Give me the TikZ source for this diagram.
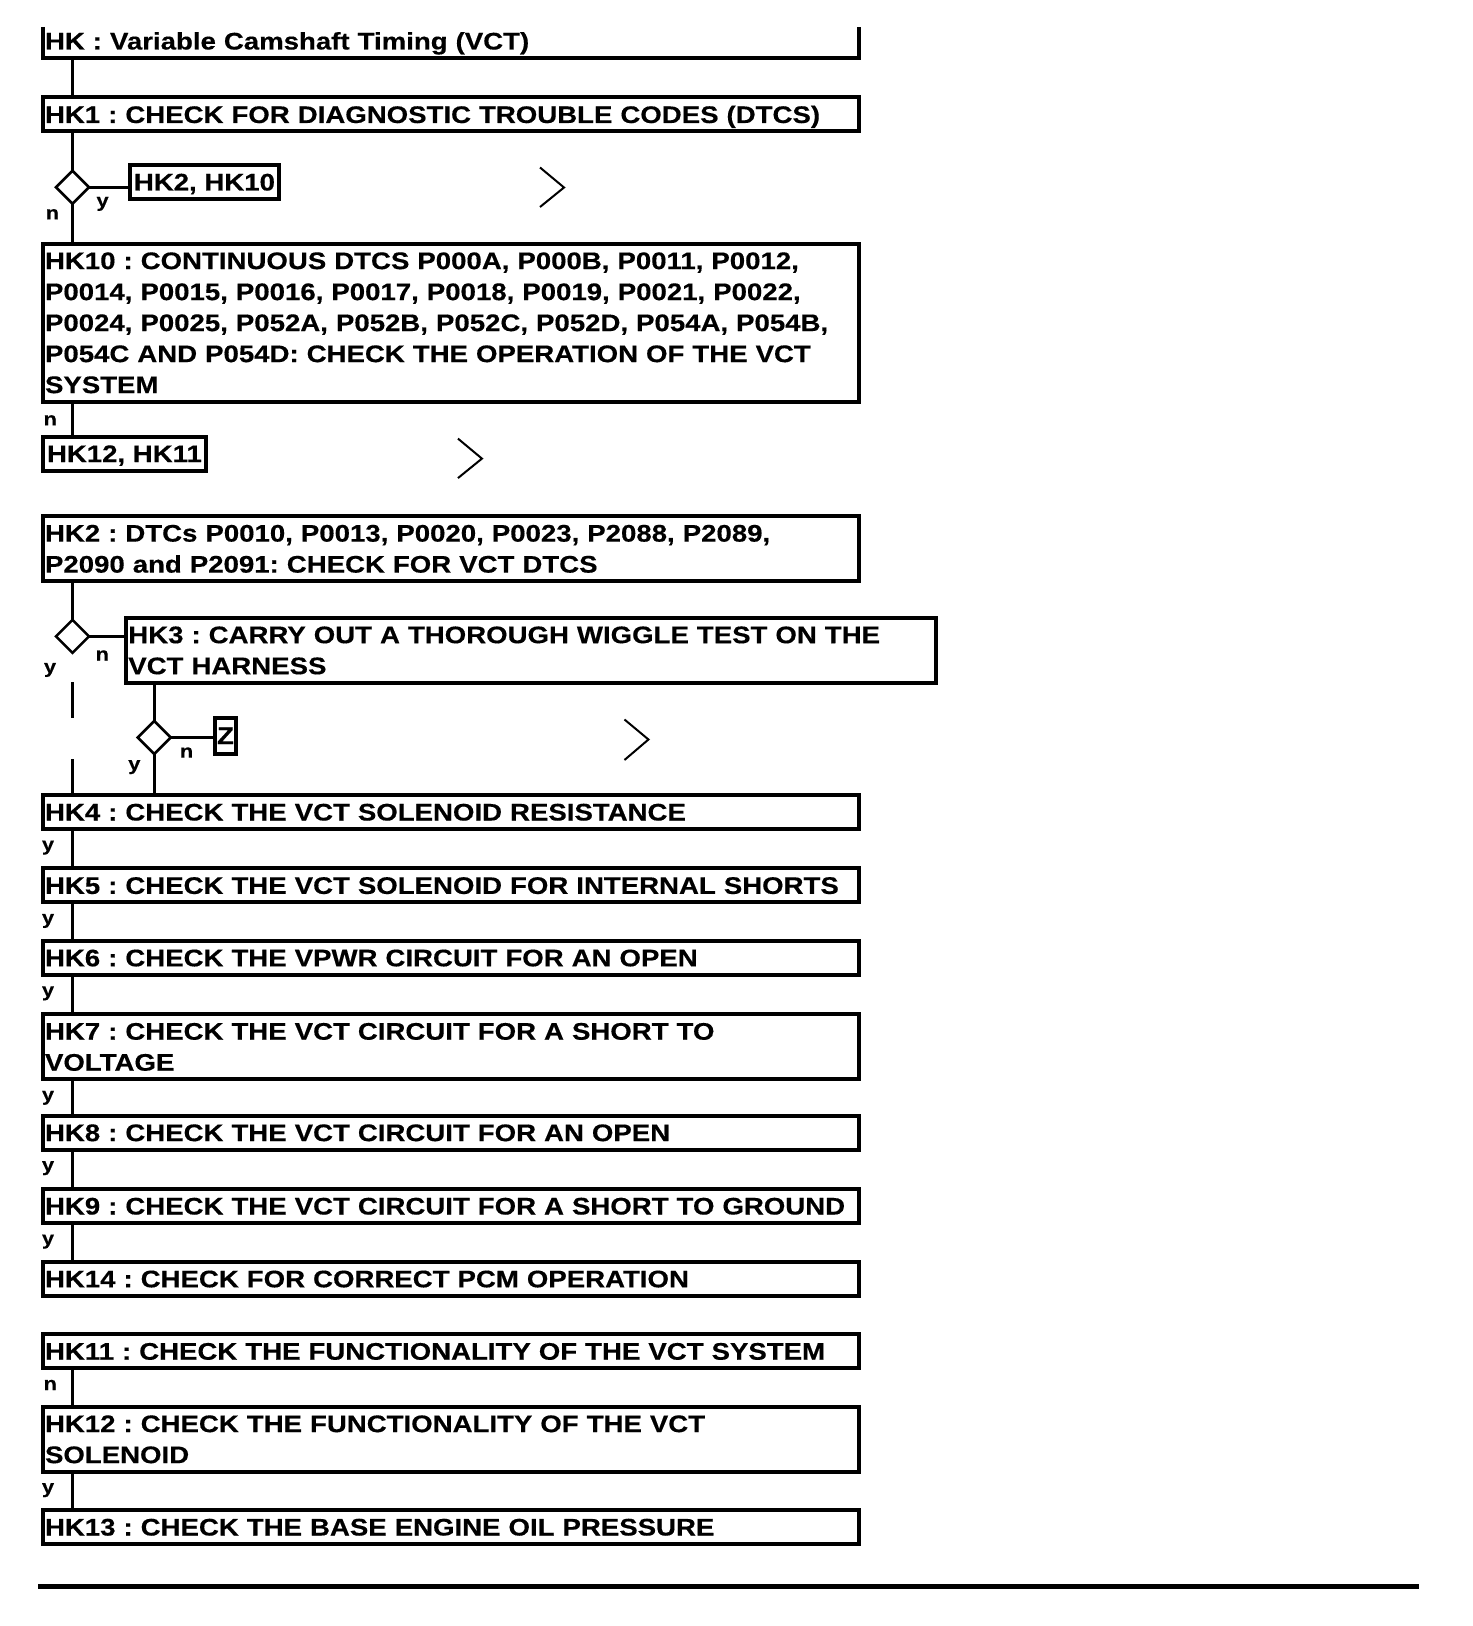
\documentclass[tikz,border=0pt]{standalone}
\usepackage{fontspec}
\setmainfont{Liberation Sans}[FakeStretch=1.15, BoldFeatures={FakeBold=0.4}]
\usetikzlibrary{shapes.geometric,positioning}

\newcommand{\boxstrut}{\rule{0pt}{11.5pt}}
\newcommand{\boxdepth}{\rule[-3pt]{0pt}{3pt}}

\begin{document}
\frenchspacing
\begin{tikzpicture}[
  box/.style={draw, rectangle, line width=2pt, outer sep=0pt,
              inner xsep=1pt, inner ysep=1.25pt, align=left, text width=406pt,
              font=\fontsize{12pt}{15.5pt}\selectfont\bfseries,
              execute at begin node=\boxstrut, execute at end node=\boxdepth},
  tag/.style={box, text width={}, inner xsep=2pt},
  diam/.style={draw, diamond, line width=1.3pt, outer sep=0pt, inner sep=0pt,
               minimum width=16.5pt, minimum height=16.5pt},
  lbl/.style={font=\fontsize{9.5pt}{11pt}\selectfont\bfseries, inner sep=0pt},
  conn/.style={line width=1.6pt},
  chev/.style={line width=1pt}]

\useasboundingbox (0,0) rectangle (736pt,-813pt);

% Header, open at the top
\node[box, draw=none, anchor=south west] (hk) at (21.5pt,-29pt)
  {HK : Variable Camshaft Timing (VCT)};
\draw[line width=2pt] ([yshift=-1.5pt]hk.north west) -- (hk.south west)
  -- (hk.south east) -- ([yshift=-1.5pt]hk.north east);

% First check and its decision
\node[box, below=19.75pt of hk.south west, anchor=north west] (hk1)
  {HK1 : CHECK FOR DIAGNOSTIC TROUBLE CODES (DTCS)};
\node[diam, below=19.65pt of hk1.south west, xshift=14.75pt] (d1) {};
\node[tag, right=20.45pt of d1, yshift=2.65pt] (lnk1) {HK2, HK10};
\node[box, below=19.9pt of d1.south, anchor=north west, xshift=-14.75pt] (hk10)
  {HK10 : CONTINUOUS DTCS P000A, P000B, P0011, P0012,\\
   P0014, P0015, P0016, P0017, P0018, P0019, P0021, P0022,\\
   P0024, P0025, P052A, P052B, P052C, P052D, P054A, P054B,\\
   P054C AND P054D: CHECK THE OPERATION OF THE VCT\\
   SYSTEM};
\node[tag, below=17.5pt of hk10.south west, anchor=north west] (lnk2) {HK12, HK11};

% DTC branch with wiggle test
\node[box, below=22.75pt of lnk2.south west, anchor=north west] (hk2)
  {HK2 : DTCs P0010, P0013, P0020, P0023, P2088, P2089,\\
   P2090 and P2091: CHECK FOR VCT DTCS};
\node[diam, below=19.4pt of hk2.south west, xshift=14.75pt] (d2) {};
\node[box, text width=403pt, right=18.65pt of d2.east, anchor=north west,
      yshift=9.35pt] (hk3)
  {HK3 : CARRY OUT A THOROUGH WIGGLE TEST ON THE\\
   VCT HARNESS};
\node[diam, below=19.15pt of hk3.south west, xshift=14pt] (d3) {};
\node[tag, right=22.15pt of d3, yshift=1pt, inner xsep=1pt, minimum height=18pt] (z) {Z};

% Circuit checks
\coordinate (c4) at (hk2.south west |- d3.south);
\node[box, below=20.5pt of c4, anchor=north west] (hk4)
  {HK4 : CHECK THE VCT SOLENOID RESISTANCE};
\node[box, below=19.7pt of hk4.south west, anchor=north west] (hk5)
  {HK5 : CHECK THE VCT SOLENOID FOR INTERNAL SHORTS};
\node[box, below=19.2pt of hk5.south west, anchor=north west] (hk6)
  {HK6 : CHECK THE VPWR CIRCUIT FOR AN OPEN};
\node[box, below=19.7pt of hk6.south west, anchor=north west] (hk7)
  {HK7 : CHECK THE VCT CIRCUIT FOR A SHORT TO\\
   VOLTAGE};
\node[box, below=18.2pt of hk7.south west, anchor=north west] (hk8)
  {HK8 : CHECK THE VCT CIRCUIT FOR AN OPEN};
\node[box, below=19.7pt of hk8.south west, anchor=north west] (hk9)
  {HK9 : CHECK THE VCT CIRCUIT FOR A SHORT TO GROUND};
\node[box, below=19.4pt of hk9.south west, anchor=north west] (hk14)
  {HK14 : CHECK FOR CORRECT PCM OPERATION};

% Functionality checks
\node[box, below=19.2pt of hk14.south west, anchor=north west] (hk11)
  {HK11 : CHECK THE FUNCTIONALITY OF THE VCT SYSTEM};
\node[box, below=19.2pt of hk11.south west, anchor=north west] (hk12)
  {HK12 : CHECK THE FUNCTIONALITY OF THE VCT\\
   SOLENOID};
\node[box, below=19.2pt of hk12.south west, anchor=north west] (hk13)
  {HK13 : CHECK THE BASE ENGINE OIL PRESSURE};

% Trunk and decisions
\draw[conn] (hk.south -| d1) -- (hk1.north -| d1);
\draw[conn] (hk1.south -| d1) -- (d1.north);
\draw[conn] (d1.east) node[lbl, below right=4pt and 2.95pt] {y} -- (d1.east -| lnk1.west);
\draw[conn] (d1.south) node[lbl, below left=1.85pt and 5.9pt] {n} -- (d1.south |- hk10.north);
\draw[conn] (hk10.south -| d1) node[lbl, below left=6pt and 7pt] {n} -- (lnk2.north -| d1);

\draw[conn] (hk2.south -| d2) -- (d2.north);
\draw[conn] (d2.east) node[lbl, below right=6.15pt and 2.5pt] {n} -- (d2.east -| hk3.west);
\draw[conn, dash pattern=on 0pt off 14.75pt on 18pt off 20.5pt on 60pt]
  (d2.south) node[lbl, below left=4.25pt and 7.4pt] {y} -- (d2.south |- hk4.north);
\draw[conn] (hk3.south -| d3) -- (d3.north);
\draw[conn] (d3.east) node[lbl, below right=4.15pt and 3.75pt] {n} -- (d3.east -| z.west);
\draw[conn] (d3.south) node[lbl, below left=2.25pt and 6.15pt] {y} -- (d3.south |- hk4.north);

\draw[conn] (hk4.south -| d1) node[lbl, below left=5pt and 8.4pt] {y} -- (hk5.north -| d1);
\draw[conn] (hk5.south -| d1) node[lbl, below left=5pt and 8.4pt] {y} -- (hk6.north -| d1);
\draw[conn] (hk6.south -| d1) node[lbl, below left=5pt and 8.4pt] {y} -- (hk7.north -| d1);
\draw[conn] (hk7.south -| d1) node[lbl, below left=5pt and 8.4pt] {y} -- (hk8.north -| d1);
\draw[conn] (hk8.south -| d1) node[lbl, below left=5pt and 8.4pt] {y} -- (hk9.north -| d1);
\draw[conn] (hk9.south -| d1) node[lbl, below left=5pt and 8.4pt] {y} -- (hk14.north -| d1);

\draw[conn] (hk11.south -| d1) node[lbl, below left=5pt and 7pt] {n} -- (hk12.north -| d1);
\draw[conn] (hk12.south -| d1) node[lbl, below left=5pt and 8.4pt] {y} -- (hk13.north -| d1);

% Continuation marks
\draw[chev] ([shift={(130.5pt,7.25pt)}]lnk1.east) -- ++(12pt,-10pt) -- ++(-12pt,-9.75pt);
\draw[chev] ([shift={(126pt,7.5pt)}]lnk2.east) -- ++(12pt,-10pt) -- ++(-12pt,-9.75pt);
\draw[chev] ([shift={(194.25pt,8pt)}]z.east) -- ++(12pt,-10pt) -- ++(-12pt,-10.25pt);

% Closing rule
\draw[line width=2.5pt] (19pt,-793.25pt) -- (709.5pt,-793.25pt);
\end{tikzpicture}
\end{document}
